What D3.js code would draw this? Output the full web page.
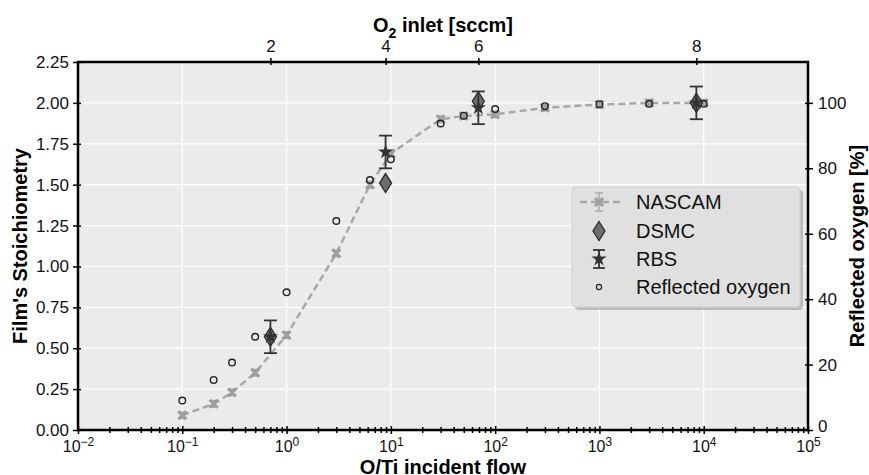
<!DOCTYPE html>
<html>
<head>
<meta charset="utf-8">
<script src="https://cdn.jsdelivr.net/npm/d3@7"></script>
<style>
  body { margin: 0; background: #fff; }
  text { font-family: "Liberation Sans", Arial, sans-serif; }
</style>
</head>
<body>
<div id="chart"></div>
<script>
// data
const nascamFlow = [0.1, 0.2, 0.3, 0.5, 1, 3, 6.3, 10, 30, 50, 100, 300, 1000, 3000, 10000];
const nascamStoich = [0.09, 0.16, 0.23, 0.35, 0.58, 1.08, 1.50, 1.69, 1.90, 1.92, 1.93, 1.97, 1.99, 2.0, 2.0];
const nascamErr = 0.02;
const reflected = [9, 15.3, 20.6, 28.5, 42.1, 63.9, 76.4, 82.8, 93.7, 96.1, 98.1, 99, 99.6, 99.7, 99.7];

const inletFlow = [0.7, 8.9, 69, 8500];
const inletLabels = ["2", "4", "6", "8"];
const dsmcStoich = [0.57, 1.51, 2.01, 2.0];
const rbsStoich = [0.57, 1.70, 1.97, 2.0];
const rbsErr = [0.10, 0.10, 0.10, 0.10];

const leftTicks = [0, 0.25, 0.5, 0.75, 1.0, 1.25, 1.5, 1.75, 2.0, 2.25];
const rightTicks = [0, 20, 40, 60, 80, 100];
const decades = [-2, -1, 0, 1, 2, 3, 4, 5];

const width = 869, height = 475;
const margin = { top: 62, right: 61, bottom: 45, left: 78 };

const svg = d3.select("#chart").append("svg")
    .attr("width", width)
    .attr("height", height);

const x = d3.scaleLog().domain([1e-2, 1e5]).range([margin.left, width - margin.right]);
const yL = d3.scaleLinear().domain([0, 2.25]).range([height - margin.bottom, margin.top]);
const yR = d3.scaleLinear().domain([0, 112.5]).range([height - margin.bottom, margin.top]);

const x0 = margin.left, x1 = width - margin.right;
const y0 = height - margin.bottom, y1 = margin.top;

// background + grid
svg.append("rect")
    .attr("x", x0).attr("y", y1)
    .attr("width", x1 - x0).attr("height", y0 - y1)
    .attr("fill", "#ebebeb");

svg.append("g").selectAll("line")
    .data(decades.slice(1, -1))
    .join("line")
    .attr("x1", d => x(Math.pow(10, d))).attr("x2", d => x(Math.pow(10, d)))
    .attr("y1", y1).attr("y2", y0)
    .attr("stroke", "#fff").attr("stroke-width", 1.2);

svg.append("g").selectAll("line")
    .data(leftTicks.slice(1, -1))
    .join("line")
    .attr("x1", x0).attr("x2", x1)
    .attr("y1", d => yL(d)).attr("y2", d => yL(d))
    .attr("stroke", "#fff").attr("stroke-width", 1.2);

// NASCAM line
const line = d3.line()
    .x((d, i) => x(nascamFlow[i]))
    .y(d => yL(d));

svg.append("path")
    .datum(nascamStoich)
    .attr("fill", "none")
    .attr("stroke", "#a8a8a8")
    .attr("stroke-width", 2.5)
    .attr("stroke-dasharray", "7,4")
    .attr("d", line);

// marker shapes
function xMarker(s) {
    const a = s, b = s * 0.35;
    return `M${-a},${-a + b}L${-a + b},${-a}L0,${-b}L${a - b},${-a}L${a},${-a + b}L${b},0` +
        `L${a},${a - b}L${a - b},${a}L0,${b}L${-a + b},${a}L${-a},${a - b}L${-b},0Z`;
}
function diamond(w, h) {
    return `M0,${-h}L${w},0L0,${h}L${-w},0Z`;
}
const star = d3.symbol().type(d3.symbolStar).size(70)();

function drawNascam(g, cx, cy, errPx) {
    g.append("line").attr("x1", cx).attr("x2", cx).attr("y1", cy - errPx).attr("y2", cy + errPx)
        .attr("stroke", "#aaa").attr("stroke-width", 1.5);
    [cy - errPx, cy + errPx].forEach(yy => g.append("line")
        .attr("x1", cx - 4).attr("x2", cx + 4).attr("y1", yy).attr("y2", yy)
        .attr("stroke", "#aaa").attr("stroke-width", 1.5));
    g.append("path").attr("d", xMarker(4.5))
        .attr("transform", `translate(${cx},${cy})`)
        .attr("fill", "#a3a3a3").attr("stroke", "#8c8c8c").attr("stroke-width", 0.8);
}

const gN = svg.append("g");
nascamStoich.forEach((v, i) => {
    drawNascam(gN, x(nascamFlow[i]), yL(v), yL(0) - yL(nascamErr));
});

// reflected oxygen
svg.append("g").selectAll("circle")
    .data(reflected)
    .join("circle")
    .attr("cx", (d, i) => x(nascamFlow[i]))
    .attr("cy", d => yR(d))
    .attr("r", 3.3)
    .attr("fill", "none")
    .attr("stroke", "#222")
    .attr("stroke-width", 1.4);

// DSMC
svg.append("g").selectAll("path")
    .data(dsmcStoich)
    .join("path")
    .attr("d", diamond(6, 9.5))
    .attr("transform", (d, i) => `translate(${x(inletFlow[i])},${yL(d)})`)
    .attr("fill", "#6e6e6e")
    .attr("stroke", "#2a2a2a")
    .attr("stroke-width", 1.3);

// RBS
const gR = svg.append("g");
rbsStoich.forEach((v, i) => {
    const cx = x(inletFlow[i]);
    const ya = yL(v + rbsErr[i]), yb = yL(v - rbsErr[i]);
    gR.append("line").attr("x1", cx).attr("x2", cx).attr("y1", ya).attr("y2", yb)
        .attr("stroke", "#333").attr("stroke-width", 1.8);
    [ya, yb].forEach(yy => gR.append("line")
        .attr("x1", cx - 6.5).attr("x2", cx + 6.5).attr("y1", yy).attr("y2", yy)
        .attr("stroke", "#333").attr("stroke-width", 1.8));
    gR.append("path").attr("d", star)
        .attr("transform", `translate(${cx},${yL(v)})`)
        .attr("fill", "#333");
});

// axes
const axisFont = g => g.selectAll("text").attr("font-size", 17).attr("fill", "#111")
    .attr("font-family", "'Liberation Sans', Arial, sans-serif");
const crossTicks = (g, a, b, attrA, attrB) => g.selectAll(".tick line")
    .attr(attrA, a).attr(attrB, b).attr("stroke", "#000").attr("stroke-width", 1.5);

// bottom
const minors = [];
decades.slice(0, -1).forEach(d => { for (let k = 2; k < 10; k++) minors.push(k * Math.pow(10, d)); });
svg.append("g")
    .attr("transform", `translate(0,${y0})`)
    .call(d3.axisBottom(x).tickValues(minors).tickFormat("").tickSize(3))
    .call(g => g.select(".domain").remove())
    .call(g => crossTicks(g, -3, 3, "y1", "y2"));

const gB = svg.append("g")
    .attr("transform", `translate(0,${y0})`)
    .call(d3.axisBottom(x).tickValues(decades.map(d => Math.pow(10, d))).tickSize(5).tickPadding(6))
    .call(g => g.select(".domain").remove())
    .call(g => crossTicks(g, -4, 4, "y1", "y2"))
    .call(axisFont);
gB.selectAll(".tick text")
    .attr("font-family", "'DejaVu Sans', sans-serif")
    .attr("font-size", 16)
    .text(null)
    .each(function(d) {
        const t = d3.select(this);
        const e = Math.round(Math.log10(d));
        t.append("tspan").text("10");
        t.append("tspan").attr("dy", "-0.5em").attr("font-size", 12).text(e < 0 ? "\u2212" + (-e) : e);
    });

// top
svg.append("g")
    .attr("transform", `translate(0,${y1})`)
    .call(d3.axisTop(x).tickValues(inletFlow).tickFormat((d, i) => inletLabels[i]).tickSize(4).tickPadding(6))
    .call(g => g.select(".domain").remove())
    .call(g => crossTicks(g, -4, 3, "y2", "y1"))
    .call(axisFont);

// left
svg.append("g")
    .attr("transform", `translate(${x0},0)`)
    .call(d3.axisLeft(yL).tickValues(leftTicks).tickFormat(d3.format(".2f")).tickSize(5).tickPadding(4))
    .call(g => g.select(".domain").remove())
    .call(g => crossTicks(g, -5, 3, "x2", "x1"))
    .call(axisFont);

// right
svg.append("g")
    .attr("transform", `translate(${x1},0)`)
    .call(d3.axisRight(yR).tickValues(rightTicks).tickSize(5).tickPadding(5))
    .call(g => g.select(".domain").remove())
    .call(g => crossTicks(g, -3, 5, "x1", "x2"))
    .call(axisFont)
    .call(g => g.selectAll(".tick text").filter(d => d === 0).attr("dy", "0.1em"));

// frame
svg.append("rect")
    .attr("x", x0).attr("y", y1)
    .attr("width", x1 - x0).attr("height", y0 - y1)
    .attr("fill", "none").attr("stroke", "#000").attr("stroke-width", 2.5);

// titles
svg.append("text")
    .attr("transform", `translate(27,${(y0 + y1) / 2}) rotate(-90)`)
    .attr("text-anchor", "middle")
    .attr("font-size", 20).attr("font-weight", "bold")
    .text("Film's Stoichiometry");

svg.append("text")
    .attr("transform", `translate(864,${(y0 + y1) / 2}) rotate(-90)`)
    .attr("text-anchor", "middle")
    .attr("font-size", 20).attr("font-weight", "bold")
    .text("Reflected oxygen [%]");

svg.append("text")
    .attr("x", (x0 + x1) / 2).attr("y", 474)
    .attr("text-anchor", "middle")
    .attr("font-size", 20).attr("font-weight", "bold")
    .text("O/Ti incident flow");

const topTitle = svg.append("text")
    .attr("x", (x0 + x1) / 2).attr("y", 32)
    .attr("text-anchor", "middle")
    .attr("font-size", 20).attr("font-weight", "bold");
topTitle.append("tspan").text("O");
topTitle.append("tspan").attr("dy", 6).attr("font-size", 14).text("2");
topTitle.append("tspan").attr("dy", -6).text(" inlet [sccm]");

// legend
const lg = svg.append("g").attr("transform", "translate(572,187)");
lg.append("rect").attr("x", 3).attr("y", 3).attr("width", 228).attr("height", 120).attr("rx", 4)
    .attr("fill", "#9a9a9a").attr("opacity", 0.6);
lg.append("rect").attr("width", 228).attr("height", 120).attr("rx", 4)
    .attr("fill", "#e0e0e0").attr("stroke", "#cfcfcf");

const legendNames = ["NASCAM", "DSMC", "RBS", "Reflected oxygen"];
const ly = [15, 44, 72, 100];
const mx = 27;
lg.append("line").attr("x1", 8).attr("x2", 48).attr("y1", ly[0]).attr("y2", ly[0])
    .attr("stroke", "#a8a8a8").attr("stroke-width", 2.5).attr("stroke-dasharray", "7,4");
drawNascam(lg, mx, ly[0], 9);
lg.append("path").attr("d", diamond(6, 9.5)).attr("transform", `translate(${mx},${ly[1]})`)
    .attr("fill", "#6e6e6e").attr("stroke", "#2a2a2a").attr("stroke-width", 1.3);
lg.append("line").attr("x1", mx).attr("x2", mx).attr("y1", ly[2] - 9).attr("y2", ly[2] + 9)
    .attr("stroke", "#333").attr("stroke-width", 1.8);
[ly[2] - 9, ly[2] + 9].forEach(yy => lg.append("line").attr("x1", mx - 6).attr("x2", mx + 6)
    .attr("y1", yy).attr("y2", yy).attr("stroke", "#333").attr("stroke-width", 1.8));
lg.append("path").attr("d", star).attr("transform", `translate(${mx},${ly[2]})`).attr("fill", "#333");
lg.append("circle").attr("cx", mx).attr("cy", ly[3]).attr("r", 2.6)
    .attr("fill", "none").attr("stroke", "#222").attr("stroke-width", 1.2);

lg.selectAll("text.lbl")
    .data(legendNames)
    .join("text")
    .attr("class", "lbl")
    .attr("x", 64)
    .attr("y", (d, i) => ly[i] + 7)
    .attr("font-size", 20)
    .attr("fill", "#111")
    .text(d => d);
</script>
</body>
</html>
